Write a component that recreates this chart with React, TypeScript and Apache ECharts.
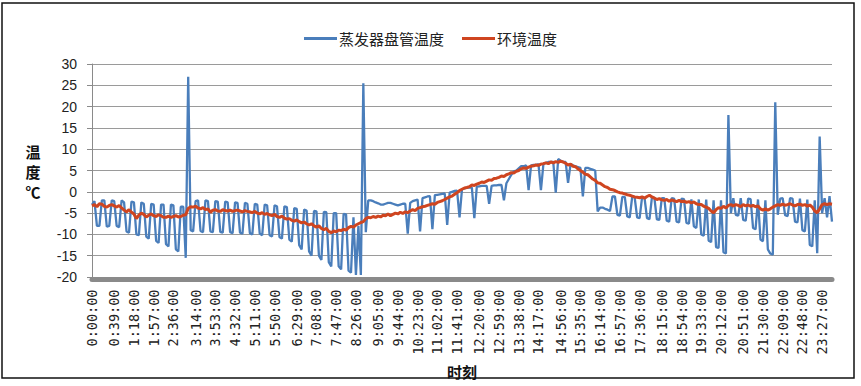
import React, { useEffect, useRef } from "react";
import * as echarts from "echarts";

const tickLabels = [
  "0:00:00", "0:39:00", "1:18:00", "1:57:00", "2:36:00", "3:14:00", "3:53:00", "4:32:00",
  "5:11:00", "5:50:00", "6:29:00", "7:08:00", "7:47:00", "8:26:00", "9:05:00", "9:44:00",
  "10:23:00", "11:02:00", "11:41:00", "12:20:00", "12:59:00", "13:38:00", "14:17:00", "14:56:00",
  "15:35:00", "16:14:00", "16:57:00", "17:36:00", "18:15:00", "18:54:00", "19:33:00", "20:12:00",
  "20:51:00", "21:30:00", "22:09:00", "22:48:00", "23:27:00",
];
// data samples between two consecutive tick labels
const SAMPLES_PER_TICK = 8.222;

const coilTemp = [
  -3, -2.2, -8, -8, -2, -2, -8.2, -8,
  -2, -2.2, -8, -8.3, -2, -2.5, -9.3, -9.6,
  -2.3, -2.5, -10, -10.2, -2.5, -2.8, -10.5, -11,
  -2.8, -3, -11.5, -12, -3, -3, -12.3, -12.8,
  -3, -3.2, -13.5, -14, -3.5, -3.5, -15.5, 27,
  -9, -9.3, -2.2, -2, -9.2, -9.5, -2, -2.2,
  -9.3, -9.5, -2.2, -2.3, -9.4, -9.6, -2.3, -2.5,
  -9.5, -9.7, -2.5, -2.6, -9.6, -9.8, -2.6, -2.8,
  -9.7, -10, -2.8, -3, -9.8, -10.2, -3, -3.2,
  -10.2, -10.5, -3.2, -3.4, -10.6, -11, -3.4, -3.6,
  -11.2, -11.7, -3.8, -4, -12.5, -13.5, -4.2, -4.4,
  -14, -15, -4.5, -4.6, -15, -16, -4.7, -4.8,
  -16.5, -17.5, -5, -5, -17.5, -18.2, -5.2, -5.3,
  -18.5, -19, -6, -19.5, -8, -19.5, 25.5, -9.5,
  -2, -2, -2.2, -2.5, -2.7, -3, -3, -2.8,
  -2.6, -2.6, -2.8, -3, -3.2, -3, -2.8, -2.8,
  -9.8, -2.6, -2.2, -2, -1.8, -9.3, -1.5, -1.3,
  -1.1, -1, -8.8, -0.8, -0.7, -0.6, -0.5, -0.4,
  -7.8, -0.2, 0, 0.2, 0.3, -6, 0.6, 0.8,
  1, 1, 1, -6.2, 1.2, 1.3, 1.4, 1.4,
  1.4, -2.8, 1.4, 1.5, 1.5, 1.6, 1.6, -2,
  2, 3, 4, 4.8, 5, 5.5, 6, 6,
  6.2, 0.4, 6.2, 6.3, 6.3, 6.5, 0.4, 6.5,
  6.8, 7, 7, 7, -0.2, 7.7, 7.3, 7,
  7, 2.1, 6.5, 6.2, 6, 5.8, 5.6, -1.1,
  5.6, 5.6, 5.4, 5.2, 5, -4.6, -3.7, -3.7,
  -4, -4.2, -4.5, -1.1, -1.1, -5.4, -5.6, -1.2,
  -1.2, -5.8, -6, -1.2, -1.3, -6, -6.2, -1.3,
  -1.4, -6.2, -6.4, -1.3, -1.4, -6.5, -6.6, -1.5,
  -1.5, -6.8, -7, -1.5, -1.6, -7, -7.2, -1.6,
  -1.7, -7.3, -7.5, -1.8, -8.1, -8.5, -1.8, -10,
  -10.3, -1.8, -11.5, -11.8, -2, -13, -13.2, -2,
  -14.2, -14.5, 18, -5, -1.5, -5.4, -5.6, -1.5,
  -6.6, -6.8, -1.6, -1.7, -8.5, -8.8, -1.8, -11.2,
  -11.6, -2, -13.5, -14.5, -14.8, 21, -5.4, -1.6,
  -1.5, -5.5, -5.7, -1.5, -1.6, -7, -7.2, -1.6,
  -9, -9.3, -1.8, -12.5, -12.8, -2, -14.4, 13,
  -5, -1.5, -6, -1, -7,
];

const ambientTemp = [
  -3.3, -3, -3.5, -2.8, -2.9, -3.4, -3.6, -3.2,
  -3, -3.3, -3.6, -3.2, -3.8, -4.3, -4.7, -4.2,
  -4.8, -5.2, -6.3, -5.5, -5, -5.3, -5.9, -5.5,
  -5.2, -5.6, -5.8, -5.4, -5.6, -6, -6, -5.7,
  -6, -5.8, -5.6, -5.9, -5.8, -5.5, -5.4, -3.9,
  -3.5, -3.6, -3.4, -3.8, -4, -3.7, -4.2, -4,
  -4.8, -4.3, -4.2, -4.5, -4.6, -4.2, -4.4, -4.5,
  -4.3, -4.6, -4.4, -4.3, -4.5, -4.7, -4.4, -4.6,
  -4.7, -4.9, -4.6, -5, -5.2, -4.9, -5.3, -5.1,
  -5.4, -5.6, -5.3, -5.8, -6, -5.7, -6.2, -6.4,
  -6.3, -6.7, -6.9, -6.6, -7, -7.3, -7.1, -7.5,
  -7.8, -7.5, -8, -8.3, -8, -8.6, -8.9, -8.6,
  -9.3, -9.6, -9.2, -9.4, -9, -9.1, -8.8, -9,
  -8.4, -8.1, -8.3, -7.8, -7.5, -7.2, -7, -6.3,
  -6, -6.1, -5.8, -6, -5.7, -5.9, -5.5, -5.6,
  -5.2, -5.6, -5.3, -5, -5.2, -4.8, -5.1, -4.7,
  -4.9, -4.5, -4.2, -4.4, -3.9, -3.7, -3.5, -3.4,
  -3.2, -3, -2.8, -2.9, -2.5, -2.3, -2.1, -1.8,
  -1.5, -1.2, -1, -0.6, -0.2, 0.3, 0.6, 0.9,
  1, 1.2, 1.6, 1.5, 1.8, 2, 2.3, 2.2,
  2.5, 2.8, 2.7, 3.1, 3.2, 3.4, 3.7, 3.6,
  4, 4.2, 4.5, 4.4, 4.8, 5, 5.4, 5.6,
  5.5, 5.8, 6, 6.1, 6.3, 6.2, 6.5, 6.6,
  6.8, 6.6, 7, 6.8, 7.1, 6.9, 7.2, 7,
  6.7, 6.3, 6.5, 6, 5.9, 5.4, 5, 4.6,
  4.1, 4, 3.5, 3, 2.7, 2.1, 2, 1.6,
  1.2, 1, 0.6, 0.5, 0.3, 0, -0.2, -0.3,
  -0.5, -0.7, -0.8, -1, -1.2, -1.3, -1.4, -1.2,
  -1.5, -1.1, -0.8, -1.2, -1.5, -1.8, -1.6, -1.9,
  -2, -1.8, -2.2, -1.9, -2.1, -2.3, -2, -2.3,
  -2.2, -2.5, -2.3, -2.6, -2.4, -2.8, -3, -3,
  -3.4, -3.6, -3.9, -4.5, -4.9, -4.2, -3.7, -3.9,
  -3.4, -3.8, -3.2, -3, -3.3, -3, -3.2, -3.5,
  -3, -3.3, -3.1, -3.4, -3.2, -3.5, -3.3, -4,
  -4.3, -4, -4.3, -4, -3.6, -3.3, -3, -3.2,
  -2.9, -3.2, -3, -2.8, -3.1, -3.3, -3, -2.9,
  -3.2, -3, -3.4, -3.1, -3.6, -4.5, -4.9, -4,
  -3, -2.8, -3, -2.8, -2.9,
];

const seriesNames = ["蒸发器盘管温度", "环境温度"];

// map sample index -> tick label (only some samples carry a visible label)
const labelAt: Record<number, string> = {};
tickLabels.forEach((t, k) => {
  labelAt[Math.round(0.4 + k * SAMPLES_PER_TICK)] = t;
});
const categories = coilTemp.map((_, i) => (labelAt[i] !== undefined ? labelAt[i] : `#${i}`));

export default function App() {
  const ref = useRef<HTMLDivElement>(null);
  useEffect(() => {
    if (!ref.current) return;
    const chart = echarts.init(ref.current, undefined, { renderer: "svg" });
    chart.setOption({
      animation: false,
      backgroundColor: "#ffffff",
      legend: {
        top: 26,
        left: "center",
        icon: "rect",
        itemWidth: 33,
        itemHeight: 3,
        itemGap: 18,
        textStyle: { fontSize: 15, fontFamily: "Noto Sans CJK SC", color: "#222", padding: [0, 0, 0, -3] },
        data: seriesNames,
      },
      grid: { left: 92, right: 29, top: 64, bottom: 109 },
      xAxis: {
        type: "category",
        data: categories,
        boundaryGap: false,
        offset: 2.5,
        axisLine: { onZero: false, lineStyle: { color: "#8a8a8a", width: 5 } },
        axisTick: { show: false },
        axisLabel: {
          interval: (index: number) => labelAt[index] !== undefined,
          rotate: 90,
          margin: 10,
          fontFamily: "DejaVu Sans Mono",
          fontSize: 13.5,
          color: "#222",
        },
        splitLine: { show: false },
        name: "时刻",
        nameLocation: "middle",
        nameGap: 84,
        nameTextStyle: { fontSize: 15, fontWeight: "bold", fontFamily: "Noto Sans CJK SC", color: "#111" },
      },
      yAxis: {
        type: "value",
        min: -20,
        max: 30,
        interval: 5,
        axisLine: { show: true, lineStyle: { color: "#8a8a8a", width: 1 } },
        axisTick: { show: true, length: 5, lineStyle: { color: "#8a8a8a" } },
        axisLabel: { margin: 15, fontFamily: "Liberation Sans", fontSize: 14, color: "#222" },
        splitLine: { lineStyle: { color: "#9a9a9a", width: 1 } },
      },
      graphic: [
        {
          type: "rect",
          shape: { x: 2, y: 3, width: 852, height: 375 },
          style: { fill: "none", stroke: "#111", lineWidth: 1.5 },
          silent: true,
        },
        {
          type: "text",
          x: 33,
          y: 141,
          style: {
            text: "温\n度\n℃",
            textAlign: "center",
            fontSize: 15,
            lineHeight: 20,
            fontWeight: "bold",
            fontFamily: "Noto Sans CJK SC",
            fill: "#111",
          },
        },
      ],
      series: [
        {
          name: seriesNames[0],
          type: "line",
          data: coilTemp,
          showSymbol: false,
          symbol: "none",
          lineStyle: { color: "#4A7EBB", width: 2.3 },
          itemStyle: { color: "#4A7EBB" },
        },
        {
          name: seriesNames[1],
          type: "line",
          data: ambientTemp,
          showSymbol: false,
          symbol: "none",
          lineStyle: { color: "#CF4520", width: 3 },
          itemStyle: { color: "#CF4520" },
        },
      ],
    });
    return () => chart.dispose();
  }, []);
  return (
    <div
      ref={ref}
      style={{ position: "fixed", left: 0, top: 0, width: 861, height: 386, background: "#fff" }}
    />
  );
}
